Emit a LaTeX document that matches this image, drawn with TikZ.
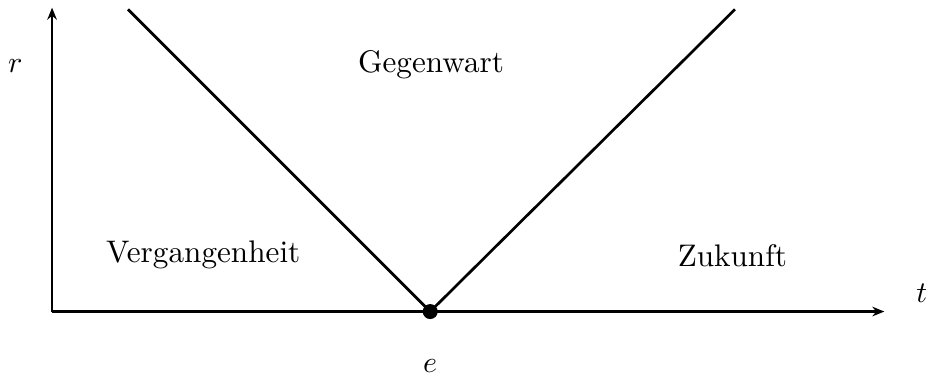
\documentclass[tikz,border=0pt]{standalone}
\usetikzlibrary{arrows.meta}
\begin{document}
\begin{tikzpicture}[>={Stealth[length=4pt,width=3.2pt]},font=\fontsize{10.4}{12.5}\selectfont]
  \useasboundingbox (-0.61,-0.77) rectangle (10.25,3.65);
  \coordinate (O) at (0,0);
  \coordinate (tend) at (9.75,0);
  \coordinate (rend) at (0,3.56);
  \draw[line width=0.9pt,->] (O)--(tend);
  \draw[line width=0.9pt,->] (O)--(rend);
  \node (t) at (10.19,0.21) {$t$};
  \node (r) at (-0.43,2.88) {$r$};
  % Lichtkegel
  \node[circle,fill,inner sep=0pt,minimum size=5pt] (e) at (4.43,0) {};
  \coordinate (vl) at (0.89,3.54);
  \coordinate (vr) at (8.0,3.54);
  \draw[line width=0.9pt] (e.center)--(vl);
  \draw[line width=0.9pt] (e.center)--(vr);
  \node (elabel) at (4.43,-0.64) {$e$};
  \node (gw) at (4.44,2.89) {Gegenwart};
  \node (vg) at (1.77,0.66) {Vergangenheit};
  \node (zk) at (7.97,0.66) {Zukunft};
\end{tikzpicture}
\end{document}
